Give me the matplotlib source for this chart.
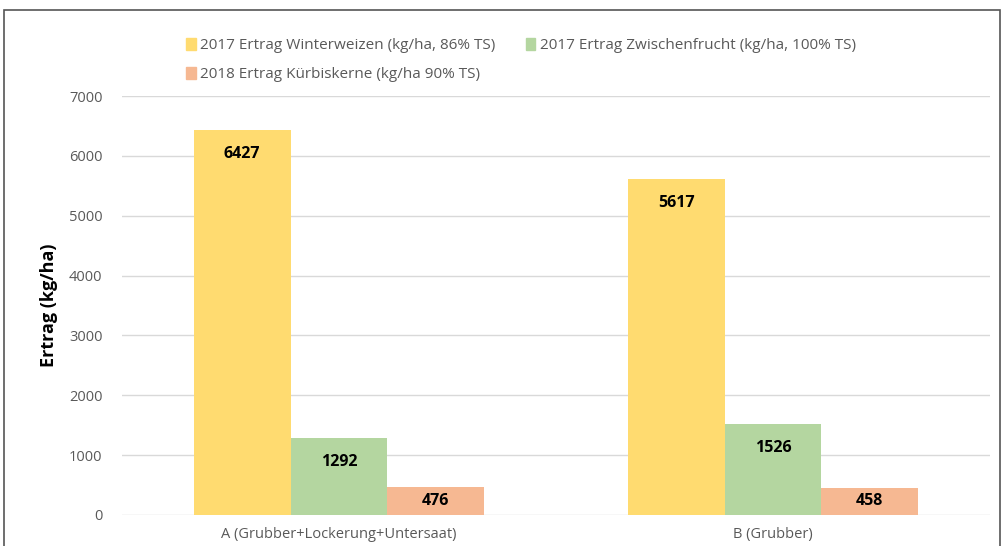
import numpy as np
import matplotlib.pyplot as plt
from matplotlib.patches import Rectangle, Patch

# data
categories = ['A (Grubber+Lockerung+Untersaat)', 'B (Grubber)']
series_names = ['2017 Ertrag Winterweizen (kg/ha, 86% TS)',
                '2017 Ertrag Zwischenfrucht (kg/ha, 100% TS)',
                '2018 Ertrag Kürbiskerne (kg/ha 90% TS)']
winterweizen = [6427, 5617]
zwischenfrucht = [1292, 1526]
kuerbiskerne = [476, 458]
colors = ['#FFDB70', '#B4D6A0', '#F6B892']

plt.rcParams['font.family'] = ['Open Sans', 'DejaVu Sans']

fig = plt.figure(figsize=(10.04, 5.46), dpi=100)
ax = fig.add_axes([0.1215, 0.0568, 0.8645, 0.7672])

x = np.arange(len(categories))
w = 0.223
values = [winterweizen, zwischenfrucht, kuerbiskerne]
for i, (vals, c) in enumerate(zip(values, colors)):
    ax.bar(x + (i - 1) * w, vals, w, color=c, zorder=2, label=series_names[i])
    for xi, v in zip(x + (i - 1) * w, vals):
        ax.text(xi, max(v - 400, v / 2), str(v), ha='center', va='center',
                fontsize=11.5, fontweight='bold', color='black', zorder=3)

ax.set_xlim(-0.5, 1.5)
ax.set_ylim(0, 7000)
ax.set_yticks(range(0, 7001, 1000))
ax.set_xticks(x)
ax.set_xticklabels(categories)
ax.yaxis.grid(True, color='#D9D9D9', linewidth=1, zorder=0)
ax.set_axisbelow(True)
for s in ax.spines.values():
    s.set_visible(False)
ax.tick_params(axis='both', length=0, labelsize=10.5, colors='#595959')
ax.tick_params(axis='x', pad=9)
ax.tick_params(axis='y', pad=14)
ax.set_ylabel('Ertrag (kg/ha)', fontsize=13, fontweight='bold', color='black', labelpad=8)

# legend in Excel row order
order = [0, 2, 1]
handles = [Patch(color=colors[k]) for k in order]
labels = [series_names[k] for k in order]
fig.legend(handles, labels, ncol=2, loc='upper left', bbox_to_anchor=(0.172, 0.955),
           frameon=False, fontsize=11, handlelength=0.6, handleheight=0.8,
           handletextpad=0.3, columnspacing=2.0, labelspacing=0.9, labelcolor='#595959')

# outer chart frame
fig.patches.append(Rectangle((4 / 1004, -0.1), 996 / 1004, 1.1 - 10 / 546,
                             transform=fig.transFigure, fill=False,
                             edgecolor='#555555', linewidth=1.2))

fig.savefig('out.png', dpi=100)
